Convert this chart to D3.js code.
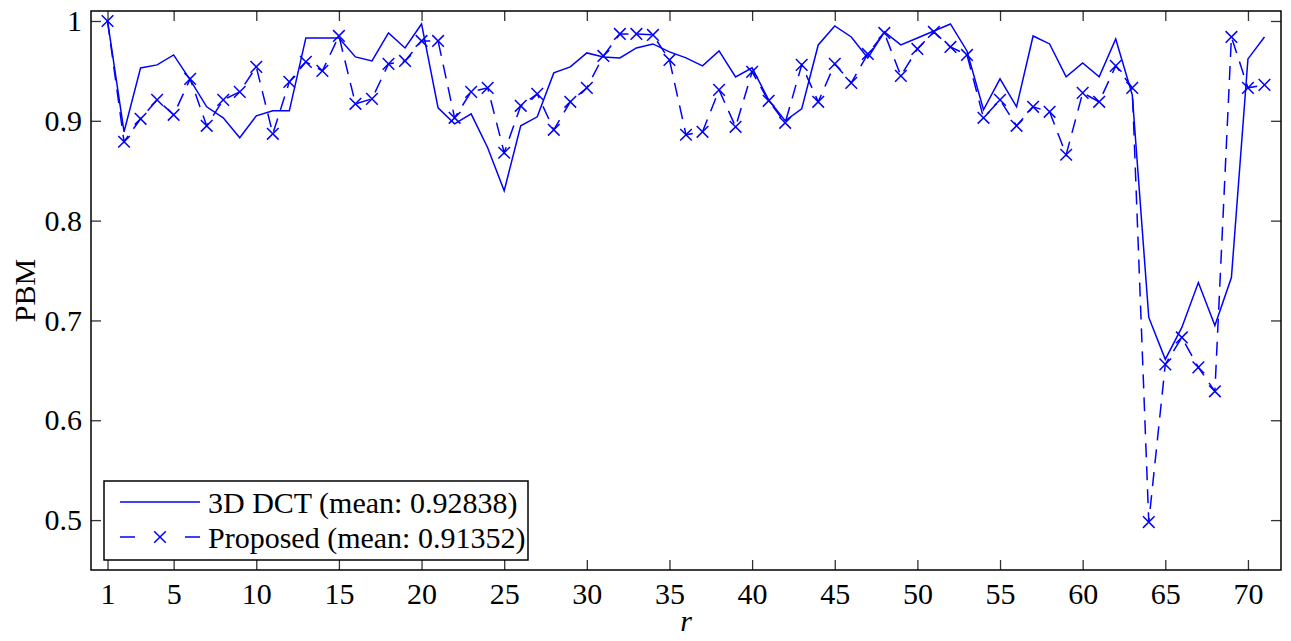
<!DOCTYPE html>
<html>
<head>
<meta charset="utf-8">
<script src="https://cdn.jsdelivr.net/npm/d3@7"></script>
<style>
  body { margin: 0; background: #fff; }
  text { font-family: "Liberation Serif", "Times New Roman", serif; }
</style>
</head>
<body>
<div id="chart"></div>
<script>
var rValues = d3.range(1, 72);
var xTickValues = [1, 5, 10, 15, 20, 25, 30, 35, 40, 45, 50, 55, 60, 65, 70];
var yTickValues = [0.5, 0.6, 0.7, 0.8, 0.9, 1];

var dct3d = [1.000, 0.889, 0.953, 0.956, 0.966, 0.941, 0.914, 0.903, 0.883, 0.905,
    0.910, 0.910, 0.983, 0.983, 0.983, 0.964, 0.960, 0.988, 0.973, 0.997,
    0.913, 0.897, 0.907, 0.873, 0.830, 0.895, 0.904, 0.948, 0.954, 0.968,
    0.964, 0.963, 0.973, 0.977, 0.969, 0.963, 0.955, 0.970, 0.944, 0.953,
    0.921, 0.900, 0.912, 0.976, 0.995, 0.984, 0.963, 0.989, 0.976, 0.983,
    0.990, 0.997, 0.970, 0.911, 0.942, 0.914, 0.985, 0.977, 0.944, 0.958,
    0.944, 0.982, 0.926, 0.703, 0.661, 0.693, 0.738, 0.695, 0.743, 0.962,
    0.984];

var proposed = [1.000, 0.879, 0.902, 0.921, 0.906, 0.942, 0.895, 0.921, 0.929, 0.954,
    0.887, 0.939, 0.959, 0.950, 0.985, 0.917, 0.922, 0.957, 0.960, 0.980,
    0.980, 0.903, 0.929, 0.933, 0.868, 0.915, 0.927, 0.891, 0.919, 0.933,
    0.965, 0.987, 0.987, 0.986, 0.961, 0.886, 0.889, 0.931, 0.894, 0.949,
    0.920, 0.898, 0.956, 0.919, 0.957, 0.938, 0.967, 0.988, 0.945, 0.972,
    0.989, 0.974, 0.966, 0.903, 0.921, 0.895, 0.914, 0.909, 0.866, 0.928,
    0.919, 0.955, 0.933, 0.498, 0.656, 0.683, 0.653, 0.629, 0.984, 0.933,
    0.936];

var legendLabels = ["3D DCT (mean: 0.92838)", "Proposed (mean: 0.91352)"];

var W = 1291, H = 641,
    margin = { top: 11, right: 10, bottom: 71, left: 91 },
    width = W - margin.left - margin.right,
    height = H - margin.top - margin.bottom,
    blue = "#0000ff",
    fontSize = 30;

var svg = d3.select("#chart").append("svg")
    .attr("width", W)
    .attr("height", H);
var g = svg.append("g")
    .attr("transform", "translate(" + margin.left + "," + margin.top + ")");

var x = d3.scaleLinear().domain([0, 72]).range([0, width]);
var y = d3.scaleLinear().domain([0.45, 1.01]).range([height, 0]);

// axes: ticks point inward, mirrored on top/right
function styleAxis(sel) {
    sel.attr("font-family", null).attr("font-size", null);
    sel.select(".domain").remove();
    sel.selectAll(".tick line").attr("stroke", "#333").attr("stroke-width", 1.3);
    sel.selectAll(".tick text").attr("fill", "#000")
        .style("font-size", fontSize + "px");
}

g.append("g")
    .attr("transform", "translate(0," + height + ")")
    .call(d3.axisBottom(x).tickValues(xTickValues).tickSizeInner(-10).tickSizeOuter(0).tickPadding(13).tickFormat(d3.format("d")))
    .call(styleAxis)
    .call(function(s) { s.selectAll(".tick text").attr("dy", "0.71em"); });

g.append("g")
    .call(d3.axisTop(x).tickValues(xTickValues).tickSizeInner(-10).tickSizeOuter(0).tickFormat(""))
    .call(styleAxis);

g.append("g")
    .call(d3.axisLeft(y).tickValues(yTickValues).tickSizeInner(-10).tickSizeOuter(0).tickPadding(9).tickFormat(function(d) { return d === 1 ? "1" : d3.format(".1f")(d); }))
    .call(styleAxis);

g.append("g")
    .attr("transform", "translate(" + width + ",0)")
    .call(d3.axisRight(y).tickValues(yTickValues).tickSizeInner(-10).tickSizeOuter(0).tickFormat(""))
    .call(styleAxis);

// box
g.append("rect")
    .attr("width", width)
    .attr("height", height)
    .attr("fill", "none")
    .attr("stroke", "#000")
    .attr("stroke-width", 1.5);

var line = d3.line()
    .x(function(d) { return x(d[0]); })
    .y(function(d) { return y(d[1]); });

var dctPts = rValues.map(function(r, i) { return [r, dct3d[i]]; });
var propPts = rValues.map(function(r, i) { return [r, proposed[i]]; });

g.append("path")
    .datum(dctPts)
    .attr("d", line)
    .attr("fill", "none")
    .attr("stroke", blue)
    .attr("stroke-width", 1.5);

g.append("path")
    .datum(propPts)
    .attr("d", line)
    .attr("fill", "none")
    .attr("stroke", blue)
    .attr("stroke-width", 1.5)
    .attr("stroke-dasharray", "14,9");

var cross = d3.symbol().type(d3.symbolX).size(90);
g.selectAll(".mark")
    .data(propPts)
    .enter().append("path")
    .attr("class", "mark")
    .attr("transform", function(d) { return "translate(" + x(d[0]) + "," + y(d[1]) + ")"; })
    .attr("d", cross)
    .attr("fill", "none")
    .attr("stroke", blue)
    .attr("stroke-width", 1.5);

// labels
svg.append("text")
    .attr("transform", "translate(35," + (margin.top + height / 2) + ") rotate(-90)")
    .attr("text-anchor", "middle")
    .style("font-size", fontSize + "px")
    .text("PBM");

svg.append("text")
    .attr("x", margin.left + width / 2)
    .attr("y", 631)
    .attr("text-anchor", "middle")
    .style("font-size", fontSize + "px")
    .style("font-style", "italic")
    .text("r");

// legend
var leg = svg.append("g").attr("transform", "translate(104,481)");
leg.append("rect")
    .attr("width", 424)
    .attr("height", 79)
    .attr("fill", "#fff")
    .attr("stroke", "#000")
    .attr("stroke-width", 1.5);

leg.append("line")
    .attr("x1", 16).attr("x2", 96).attr("y1", 21).attr("y2", 21)
    .attr("stroke", blue).attr("stroke-width", 1.5);
leg.append("line")
    .attr("x1", 16).attr("x2", 96).attr("y1", 56).attr("y2", 56)
    .attr("stroke", blue).attr("stroke-width", 1.5)
    .attr("stroke-dasharray", "15,50");
leg.append("path")
    .attr("transform", "translate(56,56)")
    .attr("d", cross)
    .attr("fill", "none")
    .attr("stroke", blue)
    .attr("stroke-width", 1.5);

leg.selectAll(".legtext")
    .data(legendLabels)
    .enter().append("text")
    .attr("class", "legtext")
    .attr("x", 104)
    .attr("y", function(d, i) { return 21 + i * 35; })
    .attr("dy", "0.35em")
    .style("font-size", fontSize + "px")
    .text(function(d) { return d; });
</script>
</body>
</html>
